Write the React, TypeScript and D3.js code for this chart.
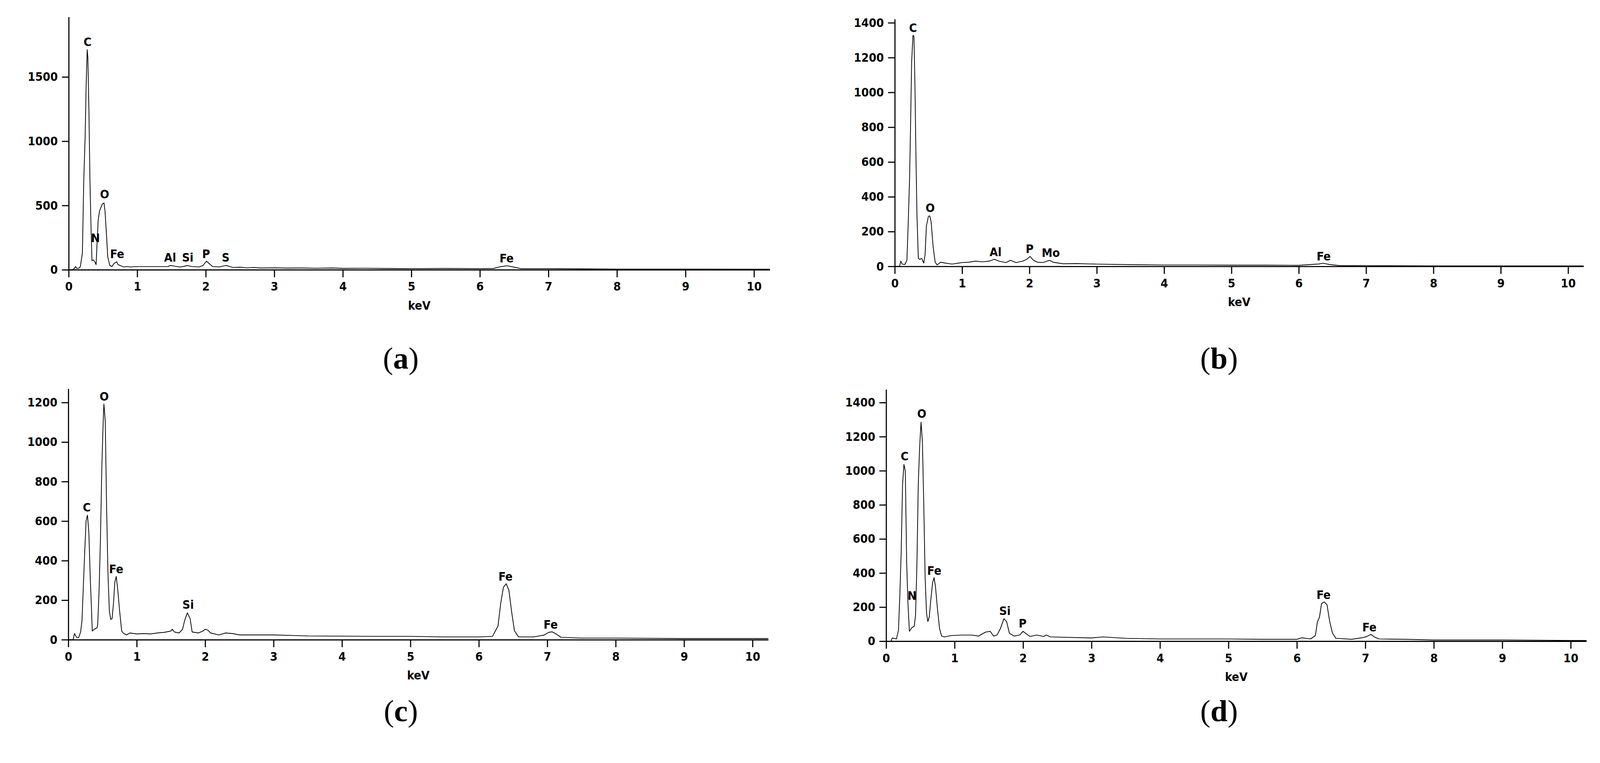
import { axisBottom, axisLeft, line, scaleLinear, select, Selection } from 'd3'
import { useEffect, useRef } from 'react'

const WIDTH = 4263
const HEIGHT = 1954
const KEV_MAX = 10.23

const keVTicks = [0, 1, 2, 3, 4, 5, 6, 7, 8, 9, 10]
const countTicksA = [0, 500, 1000, 1500]
const countTicksB = [0, 200, 400, 600, 800, 1000, 1200, 1400]
const countTicksC = [0, 200, 400, 600, 800, 1000, 1200]
const countTicksD = [0, 200, 400, 600, 800, 1000, 1200, 1400]

// [keV, counts]
const spectrumA: [number, number][] = [
  [0, 0], [0.05, 0], [0.08, 8], [0.1, 25], [0.12, 10], [0.15, 12], [0.17, 25], [0.2, 130], [0.22, 695],
  [0.24, 1030], [0.255, 1440], [0.27, 1712], [0.28, 1650], [0.295, 1247], [0.31, 703], [0.325, 345],
  [0.34, 70], [0.36, 77], [0.38, 62], [0.4, 40], [0.41, 160], [0.43, 383], [0.45, 457], [0.49, 510],
  [0.515, 520], [0.53, 457], [0.55, 286], [0.57, 100], [0.6, 33], [0.63, 25], [0.66, 48], [0.7, 62],
  [0.72, 40], [0.75, 33], [0.8, 22], [0.85, 25], [0.9, 22], [1.0, 25], [1.2, 25], [1.45, 25], [1.48, 33],
  [1.55, 28], [1.62, 21], [1.68, 26], [1.73, 33], [1.8, 25], [1.9, 22], [1.96, 33], [2.01, 67], [2.05, 48],
  [2.1, 25], [2.2, 22], [2.27, 31], [2.3, 33], [2.35, 25], [2.4, 18], [2.5, 20], [2.6, 15], [2.7, 18],
  [2.8, 14], [3.0, 15], [3.2, 13], [3.4, 14], [3.6, 12], [3.85, 14], [4.0, 11], [4.3, 12], [4.6, 10],
  [5.0, 9], [5.5, 10], [6.0, 9], [6.2, 10], [6.3, 24], [6.4, 31], [6.5, 20], [6.6, 9], [7.0, 9], [7.5, 7],
  [8.0, 5], [9.0, 5], [10.23, 4],
]

const spectrumB: [number, number][] = [
  [0, 0], [0.07, 0], [0.09, 30], [0.11, 13], [0.15, 11], [0.18, 35], [0.2, 250], [0.22, 508], [0.235, 816],
  [0.25, 1168], [0.27, 1328], [0.285, 1322], [0.3, 1036], [0.315, 618], [0.33, 288], [0.35, 46], [0.37, 40],
  [0.4, 46], [0.43, 19], [0.45, 68], [0.47, 233], [0.5, 288], [0.52, 290], [0.54, 255], [0.57, 112],
  [0.6, 24], [0.63, 8], [0.68, 24], [0.75, 19], [0.85, 13], [0.95, 19], [1.0, 22], [1.1, 24], [1.2, 30],
  [1.3, 26], [1.4, 30], [1.48, 41], [1.55, 30], [1.65, 22], [1.72, 35], [1.8, 22], [1.9, 30], [1.96, 41],
  [2.01, 57], [2.06, 35], [2.12, 24], [2.2, 22], [2.3, 35], [2.35, 24], [2.5, 15], [2.7, 16], [3.0, 13],
  [3.5, 10], [4.0, 8], [4.5, 8], [5.0, 7], [5.5, 7], [6.0, 6], [6.3, 14], [6.36, 18], [6.45, 11], [6.6, 5],
  [7.0, 4], [8.0, 3], [9.0, 3], [10.23, 3],
]

const spectrumC: [number, number][] = [
  [0, 0], [0.07, 0], [0.09, 31], [0.12, 12], [0.15, 10], [0.18, 39], [0.2, 97], [0.22, 272], [0.24, 446],
  [0.26, 601], [0.28, 630], [0.3, 543], [0.32, 320], [0.34, 145], [0.35, 44], [0.38, 53], [0.42, 60],
  [0.43, 78], [0.45, 252], [0.47, 514], [0.49, 873], [0.51, 1106], [0.52, 1193], [0.54, 1106], [0.56, 660],
  [0.58, 330], [0.6, 145], [0.62, 102], [0.64, 107], [0.66, 184], [0.68, 291], [0.7, 320], [0.72, 262],
  [0.75, 145], [0.78, 44], [0.8, 34], [0.85, 24], [0.9, 34], [1.0, 29], [1.1, 31], [1.2, 29], [1.3, 34],
  [1.4, 37], [1.5, 44], [1.52, 53], [1.55, 39], [1.62, 34], [1.67, 53], [1.7, 97], [1.74, 136], [1.78, 107],
  [1.81, 39], [1.9, 34], [1.97, 44], [2.0, 53], [2.04, 48], [2.08, 34], [2.2, 24], [2.3, 34], [2.4, 31],
  [2.5, 24], [2.7, 24], [3.0, 24], [3.5, 19], [4.0, 18], [4.5, 17], [5.0, 17], [5.5, 14], [6.0, 14],
  [6.2, 17], [6.28, 69], [6.32, 185], [6.36, 266], [6.4, 283], [6.44, 249], [6.48, 139], [6.52, 46],
  [6.58, 14], [6.8, 14], [6.95, 23], [7.02, 37], [7.07, 40], [7.13, 29], [7.2, 12], [7.5, 8], [8.0, 8],
  [9.0, 6], [10.0, 6], [10.23, 6],
]

const spectrumD: [number, number][] = [
  [0, 0], [0.07, 0], [0.09, 19], [0.15, 13], [0.18, 64], [0.2, 267], [0.22, 525], [0.24, 919], [0.26, 1037],
  [0.28, 998], [0.3, 458], [0.32, 210], [0.34, 58], [0.36, 70], [0.38, 81], [0.41, 87], [0.43, 154],
  [0.45, 458], [0.47, 930], [0.49, 1144], [0.51, 1285], [0.53, 1167], [0.55, 795], [0.57, 368], [0.59, 165],
  [0.61, 115], [0.63, 143], [0.65, 233], [0.68, 345], [0.7, 373], [0.72, 323], [0.75, 188], [0.78, 75],
  [0.81, 30], [0.85, 25], [0.95, 33], [1.1, 36], [1.25, 36], [1.35, 30], [1.45, 53], [1.52, 58], [1.57, 30],
  [1.62, 36], [1.67, 75], [1.72, 132], [1.76, 115], [1.8, 47], [1.87, 30], [1.95, 36], [2.0, 58], [2.05, 42],
  [2.1, 28], [2.2, 36], [2.3, 28], [2.34, 36], [2.4, 25], [3.0, 19], [3.17, 25], [3.5, 17], [4.0, 13],
  [4.5, 13], [5.0, 13], [5.5, 11], [6.0, 11], [6.07, 20], [6.2, 13], [6.27, 33], [6.3, 114], [6.33, 141],
  [6.36, 221], [6.4, 230], [6.44, 214], [6.48, 114], [6.52, 47], [6.57, 17], [6.8, 11], [6.95, 20],
  [7.02, 27], [7.08, 40], [7.14, 23], [7.2, 13], [7.6, 11], [8.0, 7], [9.0, 7], [10.0, 4], [10.23, 4],
]

interface PeakLabel {
  element: string
  keV: number
  counts: number
}

const peaksA: PeakLabel[] = [
  { element: 'C', keV: 0.276, counts: 1739 },
  { element: 'N', keV: 0.39, counts: 216 },
  { element: 'O', keV: 0.524, counts: 554 },
  { element: 'Fe', keV: 0.707, counts: 92 },
  { element: 'Al', keV: 1.48, counts: 63 },
  { element: 'Si', keV: 1.737, counts: 63 },
  { element: 'P', keV: 2.005, counts: 92 },
  { element: 'S', keV: 2.29, counts: 63 },
  { element: 'Fe', keV: 6.39, counts: 56 },
]

const peaksB: PeakLabel[] = [
  { element: 'C', keV: 0.272, counts: 1346 },
  { element: 'O', keV: 0.526, counts: 312 },
  { element: 'Al', keV: 1.497, counts: 59 },
  { element: 'P', keV: 2.003, counts: 77 },
  { element: 'Mo', keV: 2.317, counts: 55 },
  { element: 'Fe', keV: 6.37, counts: 34 },
]

const peaksC: PeakLabel[] = [
  { element: 'C', keV: 0.27, counts: 648 },
  { element: 'O', keV: 0.524, counts: 1210 },
  { element: 'Fe', keV: 0.7, counts: 337 },
  { element: 'Si', keV: 1.752, counts: 157 },
  { element: 'Fe', keV: 6.39, counts: 298 },
  { element: 'Fe', keV: 7.05, counts: 56 },
]

const peaksD: PeakLabel[] = [
  { element: 'C', keV: 0.271, counts: 1060 },
  { element: 'N', keV: 0.379, counts: 242 },
  { element: 'O', keV: 0.52, counts: 1311 },
  { element: 'Fe', keV: 0.703, counts: 390 },
  { element: 'Si', keV: 1.735, counts: 154 },
  { element: 'P', keV: 1.994, counts: 81 },
  { element: 'Fe', keV: 6.39, counts: 248 },
  { element: 'Fe', keV: 7.06, counts: 58 },
]

interface Panel {
  id: string
  spectrum: [number, number][]
  peaks: PeakLabel[]
  countTicks: number[]
  countMax: number
  left: number
  pxPerKeV: number
  top: number
  zero: number
  captionX: number
  captionY: number
}

const panels: Panel[] = [
  { id: 'a', spectrum: spectrumA, peaks: peaksA, countTicks: countTicksA, countMax: 1967, left: 183, pxPerKeV: 182.6, top: 45, zero: 719, captionX: 1068, captionY: 982 },
  { id: 'b', spectrum: spectrumB, peaks: peaksB, countTicks: countTicksB, countMax: 1421, left: 2384, pxPerKeV: 179.4, top: 51, zero: 710, captionX: 3248, captionY: 982 },
  { id: 'c', spectrum: spectrumC, peaks: peaksC, countTicks: countTicksC, countMax: 1270, left: 182, pxPerKeV: 182.3, top: 1036, zero: 1705, captionX: 1068, captionY: 1922 },
  { id: 'd', spectrum: spectrumD, peaks: peaksD, countTicks: countTicksD, countMax: 1477, left: 2361, pxPerKeV: 182.4, top: 1038, zero: 1709, captionX: 3248, captionY: 1922 },
]

const LABEL_FONT = "'DejaVu Sans Condensed', 'DejaVu Sans', sans-serif"
const FONT_SIZE = 32

function styleAxis(g: Selection<SVGGElement, unknown, null, undefined>) {
  g.attr('font-family', LABEL_FONT).attr('font-size', FONT_SIZE).attr('font-weight', 'bold').style('font-stretch', 'condensed')
  g.selectAll('path, line').attr('stroke', '#000').attr('stroke-width', 3)
  g.selectAll('text').attr('fill', '#000')
}

function drawPanel(root: Selection<SVGSVGElement, unknown, null, undefined>, p: Panel) {
  const x = scaleLinear().domain([0, KEV_MAX]).range([p.left, p.left + KEV_MAX * p.pxPerKeV])
  const y = scaleLinear().domain([0, p.countMax]).range([p.zero, p.top])
  const g = root.append('g').attr('class', `panel-${p.id}`)

  // spectrum trace
  const trace = line<[number, number]>()
    .x((d) => x(d[0]))
    .y((d) => y(d[1]))
  g.append('path')
    .datum(p.spectrum)
    .attr('d', trace)
    .attr('fill', 'none')
    .attr('stroke', '#000')
    .attr('stroke-width', 2)
    .attr('stroke-linejoin', 'round')

  const xAxis = g
    .append('g')
    .attr('transform', `translate(0, ${p.zero})`)
    .call(axisBottom(x).tickValues(keVTicks).tickSize(20).tickSizeOuter(0).tickPadding(13).tickFormat((d) => `${d}`))
  styleAxis(xAxis)

  const yAxis = g
    .append('g')
    .attr('transform', `translate(${p.left}, 0)`)
    .call(axisLeft(y).tickValues(p.countTicks).tickSize(18).tickSizeOuter(0).tickPadding(11).tickFormat((d) => `${d}`))
  styleAxis(yAxis)

  g.append('text')
    .attr('x', x(KEV_MAX / 2))
    .attr('y', p.zero + 106)
    .attr('text-anchor', 'middle')
    .attr('font-family', LABEL_FONT)
    .attr('font-size', FONT_SIZE)
    .attr('font-weight', 'bold')
    .style('font-stretch', 'condensed')
    .text('keV')

  // element labels above peaks
  g.selectAll('text.peak')
    .data(p.peaks)
    .join('text')
    .attr('class', 'peak')
    .attr('x', (d) => x(d.keV))
    .attr('y', (d) => y(d.counts))
    .attr('text-anchor', 'middle')
    .attr('font-family', LABEL_FONT)
    .attr('font-size', FONT_SIZE)
    .attr('font-weight', 'bold')
    .style('font-stretch', 'condensed')
    .text((d) => d.element)

  const caption = g
    .append('text')
    .attr('x', p.captionX)
    .attr('y', p.captionY)
    .attr('text-anchor', 'middle')
    .attr('font-family', "'Liberation Serif', 'Times New Roman', serif")
    .attr('font-size', 82)
  caption.append('tspan').text('(')
  caption.append('tspan').attr('font-weight', 'bold').text(p.id)
  caption.append('tspan').text(')')
}

export default function App() {
  const ref = useRef<SVGSVGElement>(null)

  useEffect(() => {
    if (!ref.current) return
    const root = select(ref.current)
    root.selectAll('*').remove()
    panels.forEach((p) => drawPanel(root, p))
    return () => {
      root.selectAll('*').remove()
    }
  }, [])

  // fixed to the viewport so the whole figure stays visible
  return (
    <svg
      ref={ref}
      viewBox={`0 0 ${WIDTH} ${HEIGHT}`}
      preserveAspectRatio="xMinYMin meet"
      style={{ position: 'fixed', left: 0, top: 0, width: '100%', height: '100%', background: '#fff' }}
    />
  )
}
